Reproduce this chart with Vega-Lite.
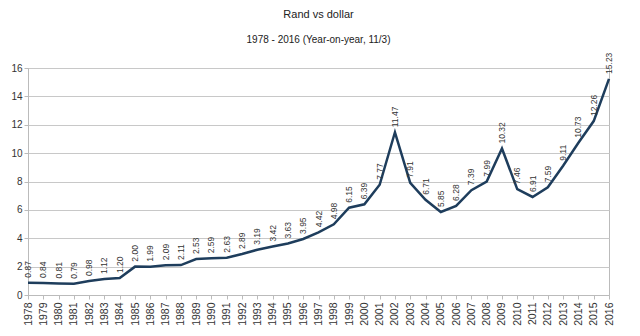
{
  "$schema": "https://vega.github.io/schema/vega-lite/v6.json",
  "width": 581,
  "height": 227,
  "padding": {"left": 10, "top": 8, "right": 22, "bottom": 2},
  "background": "white",
  "title": {
    "text": "Rand vs dollar",
    "subtitle": "1978 - 2016 (Year-on-year, 11/3)",
    "font": "Liberation Sans",
    "subtitleFont": "Liberation Sans",
    "fontSize": 11,
    "subtitleFontSize": 10,
    "fontWeight": "normal",
    "color": "#222",
    "subtitleColor": "#222",
    "subtitlePadding": 15,
    "offset": 8,
    "anchor": "middle"
  },
  "config": {
    "view": {"stroke": "#bbb", "strokeWidth": 1},
    "axis": {
      "labelFont": "Liberation Sans",
      "labelColor": "#333",
      "labelFontSize": 9.5,
      "gridColor": "#c8c8c8",
      "domainColor": "#bbb",
      "tickColor": "#bbb"
    }
  },
  "data": {
    "values": [
      {"year": "1978", "rate": 0.87},
      {"year": "1979", "rate": 0.84},
      {"year": "1980", "rate": 0.81},
      {"year": "1981", "rate": 0.79},
      {"year": "1982", "rate": 0.98},
      {"year": "1983", "rate": 1.12},
      {"year": "1984", "rate": 1.20},
      {"year": "1985", "rate": 2.00},
      {"year": "1986", "rate": 1.99},
      {"year": "1987", "rate": 2.09},
      {"year": "1988", "rate": 2.11},
      {"year": "1989", "rate": 2.53},
      {"year": "1990", "rate": 2.59},
      {"year": "1991", "rate": 2.63},
      {"year": "1992", "rate": 2.89},
      {"year": "1993", "rate": 3.19},
      {"year": "1994", "rate": 3.42},
      {"year": "1995", "rate": 3.63},
      {"year": "1996", "rate": 3.95},
      {"year": "1997", "rate": 4.42},
      {"year": "1998", "rate": 4.98},
      {"year": "1999", "rate": 6.15},
      {"year": "2000", "rate": 6.39},
      {"year": "2001", "rate": 7.77},
      {"year": "2002", "rate": 11.47},
      {"year": "2003", "rate": 7.91},
      {"year": "2004", "rate": 6.71},
      {"year": "2005", "rate": 5.85},
      {"year": "2006", "rate": 6.28},
      {"year": "2007", "rate": 7.39},
      {"year": "2008", "rate": 7.99},
      {"year": "2009", "rate": 10.32},
      {"year": "2010", "rate": 7.46},
      {"year": "2011", "rate": 6.91},
      {"year": "2012", "rate": 7.59},
      {"year": "2013", "rate": 9.11},
      {"year": "2014", "rate": 10.73},
      {"year": "2015", "rate": 12.26},
      {"year": "2016", "rate": 15.23}
    ]
  },
  "encoding": {
    "x": {
      "field": "year",
      "type": "ordinal",
      "scale": {"type": "point", "padding": 0},
      "axis": {"title": null, "labelAngle": 270, "labelPadding": 3, "labelFontSize": 10.5, "grid": false, "tickSize": 4}
    },
    "y": {
      "field": "rate",
      "type": "quantitative",
      "scale": {"domain": [0, 16]},
      "axis": {"title": null, "values": [0, 2, 4, 6, 8, 10, 12, 14, 16], "tickSize": 4, "labelPadding": 2, "labelFontSize": 10}
    }
  },
  "layer": [
    {
      "mark": {"type": "line", "color": "#1e3d5c", "strokeWidth": 2.5}
    },
    {
      "mark": {"type": "text", "angle": 270, "align": "left", "baseline": "middle", "dx": 5, "font": "Liberation Sans", "fontSize": 8.5, "color": "#333"},
      "encoding": {
        "text": {"field": "rate", "type": "quantitative", "format": ".2f"}
      }
    }
  ]
}
